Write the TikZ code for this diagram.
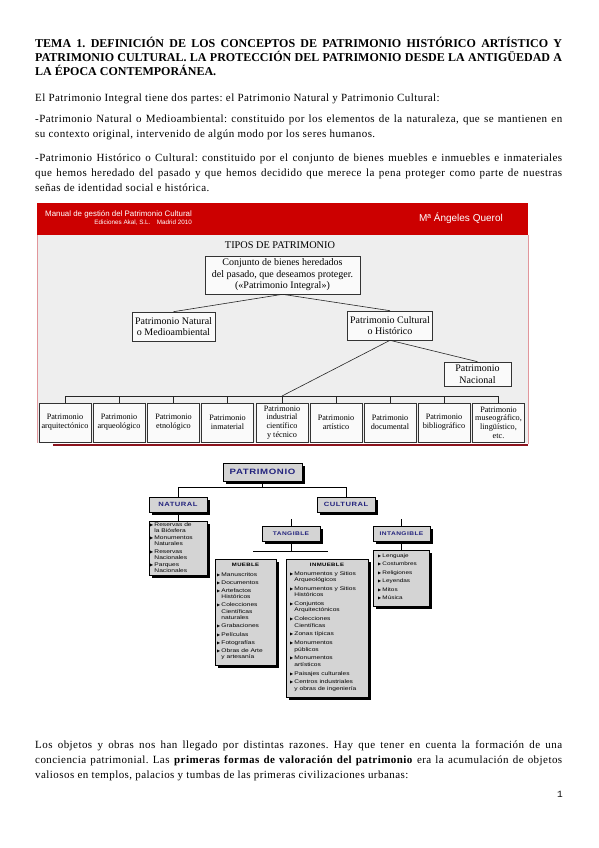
\documentclass[tikz,border=0pt]{standalone}
\usepackage{fontspec}
\setmainfont{Liberation Serif}
\newfontfamily\bodyf[LetterSpace=4]{Liberation Serif}
\newfontfamily\sansf{Liberation Sans}
\newfontfamily\hdrf[FakeStretch=1.25,LetterSpace=8]{Liberation Sans}
\newfontfamily\listf[FakeStretch=1.25]{Liberation Sans}
\newfontfamily\dejavu{DejaVu Sans}
\newfontfamily\monof{Liberation Mono}
\usetikzlibrary{shadows}
\definecolor{redband}{RGB}{204,0,0}
\definecolor{pinkframe}{RGB}{225,150,155}
\definecolor{darkred}{RGB}{140,20,30}
\definecolor{bgscan}{RGB}{238,238,238}
\definecolor{boxfill}{RGB}{250,250,250}
\definecolor{boxgray}{RGB}{212,212,212}
\definecolor{navy}{RGB}{35,35,125}
\newcommand\bul{{\dejavu\fontsize{4}{4}\selectfont ▶}\hspace{1.2pt}}
\newcommand\lind{\hphantom{\bul}}
\newcommand\jline[3]{\node[anchor=base west,inner sep=0pt,font=\bodyf\fontsize{11}{13}\selectfont] (#1) at (35,#2) {\makebox[527pt][s]{#3}};}
\newcommand\lline[3]{\node[anchor=base west,inner sep=0pt,font=\bodyf\fontsize{11}{13}\selectfont] (#1) at (35,#2) {#3};}
\newcommand\tline[3]{\node[anchor=base west,inner sep=0pt,font=\fontsize{12}{14}\selectfont\bfseries] (#1) at (35,#2) {#3};}
\tikzset{
  tbox/.style={draw=black!80, fill=boxfill, line width=0.6pt, inner sep=0pt, align=center, font=\fontsize{10}{11.5}\selectfont},
  bbox/.style={draw=black!80, fill=boxfill, line width=0.5pt, minimum width=52pt, minimum height=39pt, inner sep=0pt, align=center, font=\fontsize{8.2}{8.7}\selectfont},
  conn/.style={draw=black!85, line width=0.6pt},
  gbox/.style={draw=black, fill=boxgray, line width=0.5pt, inner sep=0pt, drop shadow={shadow xshift=2.5pt, shadow yshift=-2.5pt, opacity=1, fill=black}},
  hdr/.style={gbox, text=navy},
  lst/.style={anchor=north west, inner sep=0pt, align=left, font=\listf\fontsize{5.3}{6.2}\selectfont},
  lhead/.style={anchor=base, inner sep=0pt, font=\hdrf\bfseries\fontsize{4.8}{5}\selectfont},
  conn2/.style={draw=black, line width=0.6pt}
}
\begin{document}
\begin{tikzpicture}[x=1pt,y=-1pt]
\frenchspacing
\useasboundingbox[fill=white] (0,0) rectangle (599,848);

% ---------- title and text ----------
\tline{t1}{48}{\makebox[527pt][s]{TEMA 1. DEFINICIÓN DE LOS CONCEPTOS DE PATRIMONIO HISTÓRICO ARTÍSTICO Y}}
\tline{t2}{62}{\makebox[527pt][s]{PATRIMONIO CULTURAL. LA PROTECCIÓN DEL PATRIMONIO DESDE LA ANTIGÜEDAD A}}
\tline{t3}{76}{LA ÉPOCA CONTEMPORÁNEA.}
\lline{p1}{102}{El Patrimonio Integral tiene dos partes: el Patrimonio Natural y Patrimonio Cultural:}
\jline{p2a}{122}{-Patrimonio Natural o Medioambiental: constituido por los elementos de la naturaleza, que se mantienen en}
\lline{p2b}{137}{su contexto original, intervenido de algún modo por los seres humanos.}
\jline{p3a}{161}{-Patrimonio Histórico o Cultural: constituido por el conjunto de bienes muebles e inmuebles e inmateriales}
\jline{p3b}{176}{que hemos heredado del pasado y que hemos decidido que merece la pena proteger como parte de nuestras}
\lline{p3c}{191}{señas de identidad social e histórica.}

% ---------- figure 1 ----------
\fill[bgscan] (37,235) rectangle (528,443);
\fill[redband] (37,203) rectangle (528,235);
\draw[pinkframe, line width=0.8pt] (37,235) -- (37,443);
\draw[pinkframe, line width=0.8pt] (528,235) -- (528,444);
\draw[darkred, line width=2pt] (53,445) -- (528,445);
\node[anchor=west, inner sep=0pt, text=white, font=\sansf\fontsize{7.9}{8}\selectfont] (hd1) at (45,214) {Manual de gestión del Patrimonio Cultural};
\node[anchor=east, inner sep=0pt, text=white, font=\sansf\fontsize{6.3}{7}\selectfont] (hd2) at (192,222.5) {Ediciones Akal, S.L.\quad Madrid 2010};
\node[anchor=east, inner sep=0pt, text=white, font=\sansf\fontsize{10}{11}\selectfont] (hd3) at (503,218) {Mª Ángeles Querol};
\node[inner sep=0pt, font=\fontsize{10.3}{11}\selectfont] (tipos) at (280,245.5) {TIPOS DE PATRIMONIO};

\node[tbox, minimum width=155pt, minimum height=38pt] (conj) at (282.5,275) {Conjunto de bienes heredados\\del pasado, que deseamos proteger.\\(«Patrimonio Integral»)};
\node[tbox, minimum width=83pt, minimum height=29pt] (nat1) at (173.5,326.5) {Patrimonio Natural\\o Medioambiental};
\node[tbox, minimum width=85pt, minimum height=29pt] (cul1) at (390,325.5) {Patrimonio Cultural\\o Histórico};
\node[tbox, minimum width=67pt, minimum height=24pt] (nac) at (477.5,374) {Patrimonio\\Nacional};

\foreach \i/\xx/\txt in {
  1/65/{Patrimonio\\arquitectónico},
  2/119/{Patrimonio\\arqueológico},
  3/173.5/{Patrimonio\\etnológico},
  4/227.5/{Patrimonio\\inmaterial},
  5/282/{Patrimonio\\industrial\\científico\\y técnico},
  6/336/{Patrimonio\\artístico},
  7/390/{Patrimonio\\documental},
  8/444/{Patrimonio\\bibliográfico},
  9/498.5/{Patrimonio\\museográfico,\\lingüístico,\\etc.}}{
  \node[bbox] (b\i) at (\xx,422.5) {\txt};
}
\coordinate (busj) at (282,396);
\draw[conn] (conj.south) -- (nat1.north);
\draw[conn] (conj.south) -- (cul1.north);
\draw[conn] (cul1.south) -- (nac.north);
\draw[conn] (cul1.south) -- (busj);
\draw[conn] (b1.north |- busj) -- (b9.north |- busj);
\foreach \i in {1,...,9}{\draw[conn] (b\i.north) -- (b\i.north |- busj);}

% ---------- figure 2 ----------
\node[hdr, minimum width=79pt, minimum height=18pt, font=\hdrf\bfseries\fontsize{7.7}{8}\selectfont] (pat) at (262.5,472) {PATRIMONIO};
\node[hdr, minimum width=58pt, minimum height=15pt, font=\hdrf\bfseries\fontsize{6.1}{7}\selectfont] (nat) at (178,504.5) {NATURAL};
\node[hdr, minimum width=58pt, minimum height=15pt, font=\hdrf\bfseries\fontsize{6.1}{7}\selectfont] (cul) at (346,504.5) {CULTURAL};
\node[hdr, minimum width=58pt, minimum height=15pt, font=\hdrf\bfseries\fontsize{5.3}{6}\selectfont] (tan) at (291,533.5) {TANGIBLE};
\node[hdr, minimum width=57pt, minimum height=15pt, font=\hdrf\bfseries\fontsize{5.3}{6}\selectfont] (int) at (401.5,533.5) {INTANGIBLE};

\node[gbox, minimum width=58pt, minimum height=54pt] (natl) at (178,548) {};
\node[gbox, minimum width=61pt, minimum height=106pt] (mue) at (245.5,612) {};
\node[gbox, minimum width=82pt, minimum height=138pt] (inm) at (327,628) {};
\node[gbox, minimum width=56pt, minimum height=56pt] (intl) at (401.5,578) {};

\draw[conn2] (pat.south) -- ++(0,7);
\draw[conn2] (nat.north) -- ++(0,-9) -| (cul.north);
\draw[conn2] (nat.south) -- (natl.north);
\draw[conn2] (tan.north) -- ++(0,-7);
\draw[conn2] (int.north) -- ++(0,-7);
\coordinate (tbl) at (253,551);
\coordinate (tbr) at (328,551);
\draw[conn2] (tan.south) -- (tan.south |- tbl);
\draw[conn2] (tbl) -- (tbr);
\draw[conn2] (int.south) -- (intl.north);

\node[lst] (natt) at (150,522) {\bul Reservas de\\ \lind la Biósfera\\[1.1pt] \bul Monumentos\\ \lind Naturales\\[1.1pt] \bul Reservas\\ \lind Nacionales\\[1.1pt] \bul Parques\\ \lind Nacionales};

\node[lhead] (mueh) at (245.5,566) {MUEBLE};
\node[lst, font=\listf\fontsize{5.3}{6.5}\selectfont] (muet) at (217,572) {\bul Manuscritos\\[1.6pt] \bul Documentos\\[1.6pt] \bul Artefactos\\ \lind Históricos\\[1.6pt] \bul Colecciones\\ \lind Científicas\\ \lind naturales\\[1.6pt] \bul Grabaciones\\[1.6pt] \bul Películas\\[1.6pt] \bul Fotografías\\[1.6pt] \bul Obras de Arte\\ \lind y artesanía};

\node[lhead] (inmh) at (327,566) {INMUEBLE};
\node[lst] (inmt) at (290,571.5) {\bul Monumentos y Sitios\\ \lind Arqueológicos\\[2.7pt] \bul Monumentos y Sitios\\ \lind Históricos\\[2.7pt] \bul Conjuntos\\ \lind Arquitectónicos\\[2.7pt] \bul Colecciones\\ \lind Científicas\\[2.7pt] \bul Zonas típicas\\[2.7pt] \bul Monumentos\\ \lind públicos\\[2.7pt] \bul Monumentos\\ \lind artísticos\\[2.7pt] \bul Paisajes culturales\\[2.7pt] \bul Centros industriales\\ \lind y obras de ingeniería};

\node[lst, font=\listf\fontsize{5.1}{8.4}\selectfont] (intt) at (378,553.5) {\bul Lenguaje\\ \bul Costumbres\\ \bul Religiones\\ \bul Leyendas\\ \bul Mitos\\ \bul Música};

% ---------- bottom text ----------
\jline{q1}{748}{Los objetos y obras nos han llegado por distintas razones. Hay que tener en cuenta la formación de una}
\jline{q2}{763}{conciencia patrimonial. Las \textbf{primeras formas de valoración del patrimonio} era la acumulación de objetos}
\lline{q3}{778}{valiosos en templos, palacios y tumbas de las primeras civilizaciones urbanas:}
\node[anchor=base east, inner sep=0pt, font=\monof\fontsize{9.5}{10}\selectfont] (pg) at (563,797) {1};
\end{tikzpicture}
\end{document}
